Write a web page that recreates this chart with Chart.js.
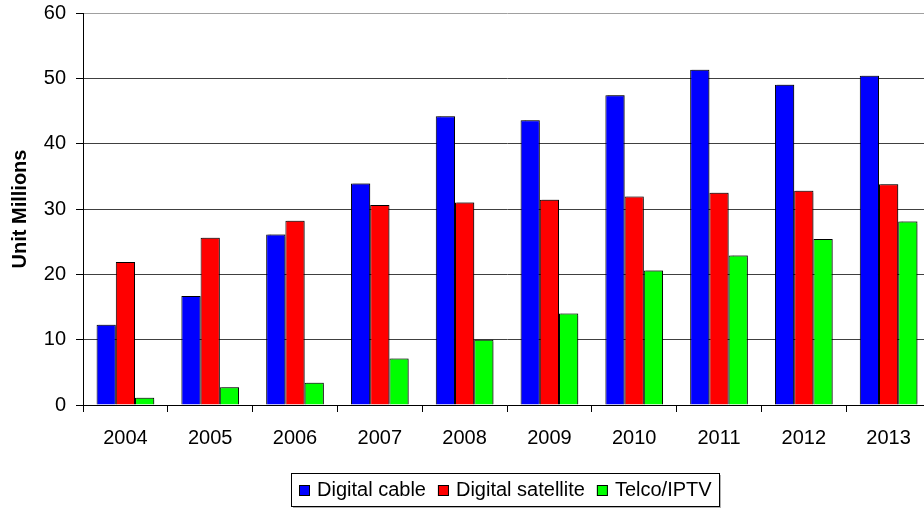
<!DOCTYPE html>
<html lang="en">

<head>
    <meta charset="UTF-8">
    <title>Digital TV Households</title>
    <script src="https://cdn.jsdelivr.net/npm/chart.js"></script>
    <style>
        html, body {
            margin: 0;
            padding: 0;
            background: #ffffff;
            overflow: hidden;
        }

        #wrap {
            width: 924px;
            height: 508px;
            overflow: hidden;
        }
    </style>
</head>

<body>
    <div id="wrap"><canvas id="myChart" width="940" height="508"></canvas></div>

    <script>
        const years = ['2004', '2005', '2006', '2007', '2008', '2009', '2010', '2011', '2012', '2013'];
        const digitalCable = [12.3, 16.7, 26.1, 33.9, 44.2, 43.6, 47.4, 51.3, 49.0, 50.4];
        const digitalSatellite = [21.9, 25.6, 28.2, 30.6, 31.0, 31.4, 31.9, 32.5, 32.8, 33.8];
        const telcoIptv = [1.1, 2.7, 3.4, 7.1, 10.0, 14.0, 20.6, 22.9, 25.4, 28.1];
        const yTicks = [0, 10, 20, 30, 40, 50, 60];

        const FONT = 'Liberation Sans, Arial, sans-serif';

        // soft drop shadow on the bars
        const barShadow = {
            id: 'barShadow',
            beforeDatasetsDraw(chart) {
                const ctx = chart.ctx;
                ctx.save();
                ctx.shadowColor = 'rgba(0,0,0,0.35)';
                ctx.shadowOffsetX = 2;
                ctx.shadowOffsetY = -1;
                ctx.shadowBlur = 1;
            },
            afterDatasetsDraw(chart) {
                chart.ctx.restore();
            }
        };

        // framed legend under the plot
        const boxLegend = {
            id: 'boxLegend',
            afterDraw(chart) {
                const ctx = chart.ctx;
                const sets = chart.data.datasets;
                ctx.save();
                ctx.font = '20px ' + FONT;
                const sq = 11, gapSq = 7, gapItem = 12;
                let total = 0;
                sets.forEach((ds, i) => {
                    total += sq + gapSq + ctx.measureText(ds.label).width;
                    if (i < sets.length - 1) total += gapItem;
                });
                const boxL = 291, boxT = 473, boxW = 428, boxH = 33;
                ctx.fillStyle = 'rgba(0,0,0,0.3)';
                ctx.fillRect(boxL + 2, boxT + 2, boxW, boxH);
                ctx.fillStyle = '#fff';
                ctx.fillRect(boxL, boxT, boxW, boxH);
                ctx.strokeStyle = '#000';
                ctx.lineWidth = 1;
                ctx.strokeRect(boxL + 0.5, boxT + 0.5, boxW, boxH);
                let x = Math.round(boxL + (boxW - total) / 2);
                const cy = boxT + boxH / 2 + 1;
                ctx.textBaseline = 'middle';
                sets.forEach(ds => {
                    ctx.fillStyle = ds.backgroundColor;
                    ctx.fillRect(x, Math.round(cy - sq / 2), sq, sq);
                    ctx.strokeStyle = '#000';
                    ctx.strokeRect(x + 0.5, Math.round(cy - sq / 2) + 0.5, sq - 1, sq - 1);
                    x += sq + gapSq;
                    ctx.fillStyle = '#000';
                    ctx.fillText(ds.label, x, cy);
                    x += ctx.measureText(ds.label).width + gapItem;
                });
                ctx.restore();
            }
        };

        function makeSet(label, values, color) {
            return {
                label: label,
                data: values,
                backgroundColor: color,
                borderColor: '#000000',
                borderWidth: 1,
                categoryPercentage: 0.68,
                barPercentage: 1.0
            };
        }

        const ctx = document.getElementById('myChart').getContext('2d');
        const myChart = new Chart(ctx, {
            type: 'bar',
            data: {
                labels: years,
                datasets: [
                    makeSet('Digital cable', digitalCable, '#0000ff'),
                    makeSet('Digital satellite', digitalSatellite, '#ff0000'),
                    makeSet('Telco/IPTV', telcoIptv, '#00ff00')
                ]
            },
            options: {
                responsive: false,
                animation: false,
                layout: {
                    padding: { top: 13, right: 9, bottom: 53, left: 0 }
                },
                plugins: {
                    legend: { display: false },
                    tooltip: { enabled: false }
                },
                scales: {
                    x: {
                        offset: true,
                        afterFit(scale) {
                            scale.height = 50;
                            scale.paddingLeft = 0;
                            scale.paddingRight = 0;
                        },
                        grid: {
                            offset: true,
                            drawOnChartArea: false,
                            tickLength: 7,
                            tickColor: '#000000'
                        },
                        border: { color: '#000000', width: 1 },
                        ticks: {
                            color: '#000000',
                            padding: 14,
                            maxRotation: 0,
                            font: { family: FONT, size: 20 }
                        }
                    },
                    y: {
                        min: 0,
                        max: 60,
                        afterFit(scale) {
                            scale.width = 83;
                            scale.paddingTop = 0;
                            scale.paddingBottom = 0;
                        },
                        afterBuildTicks(scale) {
                            scale.ticks = yTicks.map(v => ({ value: v }));
                        },
                        grid: {
                            color: ctx => ctx.tick && ctx.tick.value === 60 ? '#a0a0a0' : '#404040',
                            tickColor: '#000000',
                            tickLength: 7
                        },
                        border: { color: '#000000', width: 1 },
                        ticks: {
                            color: '#000000',
                            padding: 10,
                            font: { family: FONT, size: 20 }
                        },
                        title: {
                            display: true,
                            text: 'Unit Millions',
                            color: '#000000',
                            padding: { top: 8, bottom: 0 },
                            font: { family: FONT, size: 20, weight: 'bold' }
                        }
                    }
                }
            },
            plugins: [barShadow, boxLegend]
        });
    </script>
</body>

</html>
